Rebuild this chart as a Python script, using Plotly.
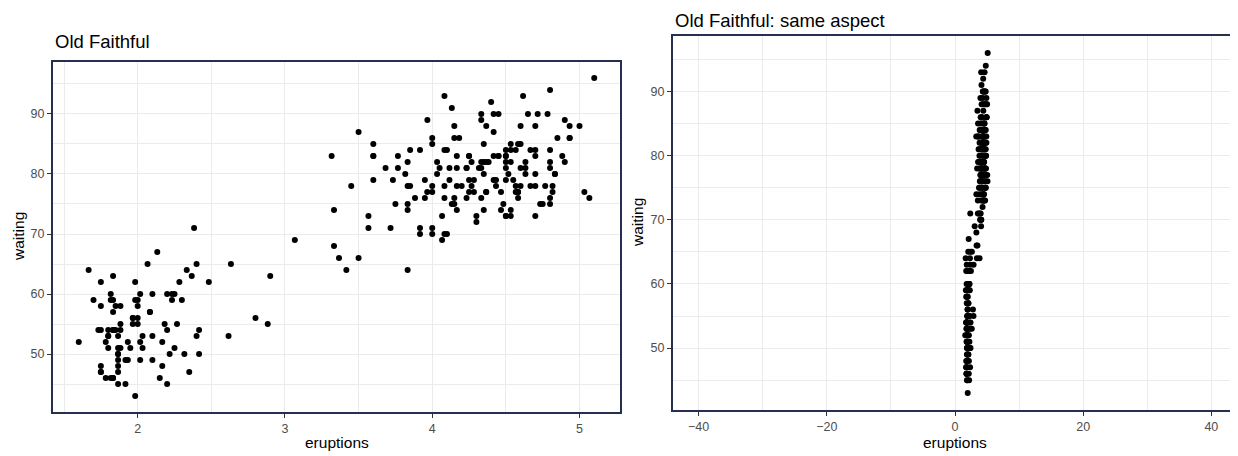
import plotly.graph_objects as go

# Old Faithful geyser data
eruptions = [
    3.600, 1.800, 3.333, 2.283, 4.533, 2.883, 4.700, 3.600, 1.950, 4.350,
    1.833, 3.917, 4.200, 1.750, 4.700, 2.167, 1.750, 4.800, 1.600, 4.250,
    1.800, 1.750, 3.450, 3.067, 4.533, 3.600, 1.967, 4.083, 3.850, 4.433,
    4.300, 4.467, 3.367, 4.033, 3.833, 2.017, 1.867, 4.833, 1.833, 4.783,
    4.350, 1.883, 4.567, 1.750, 4.533, 3.317, 3.833, 2.100, 4.633, 2.000,
    4.800, 4.716, 1.833, 4.833, 1.733, 4.883, 3.717, 1.667, 4.567, 4.317,
    2.233, 4.500, 1.750, 4.800, 1.817, 4.400, 4.167, 4.700, 2.067, 4.700,
    4.033, 1.967, 4.500, 4.000, 1.983, 5.067, 2.017, 4.567, 3.883, 3.600,
    4.133, 4.333, 4.100, 2.633, 4.067, 4.933, 3.950, 4.517, 2.167, 4.000,
    2.200, 4.333, 1.867, 4.817, 1.833, 4.300, 4.667, 3.750, 1.867, 4.900,
    2.483, 4.367, 2.100, 4.500, 4.050, 1.867, 4.700, 1.783, 4.850, 3.683,
    4.733, 2.300, 4.900, 4.417, 1.700, 4.633, 2.317, 4.600, 1.817, 4.417,
    2.617, 4.067, 4.250, 1.967, 4.600, 3.767, 1.917, 4.500, 2.267, 4.650,
    1.867, 4.167, 2.800, 4.333, 1.833, 4.383, 1.883, 4.933, 2.033, 3.733,
    4.233, 2.233, 4.533, 4.817, 4.333, 1.983, 4.633, 2.017, 5.100, 1.800,
    5.033, 4.000, 2.400, 4.600, 3.567, 4.000, 4.500, 4.083, 1.800, 3.967,
    2.200, 4.150, 2.000, 3.833, 3.500, 4.583, 2.367, 5.000, 1.933, 4.617,
    1.917, 2.083, 4.583, 3.333, 4.167, 4.333, 4.500, 2.417, 4.000, 4.167,
    1.883, 4.583, 4.250, 3.767, 2.033, 4.433, 4.083, 1.833, 4.417, 2.183,
    4.800, 1.833, 4.800, 4.100, 3.966, 4.233, 3.500, 4.366, 2.250, 4.667,
    2.100, 4.350, 4.133, 1.867, 4.600, 1.783, 4.367, 3.850, 1.933, 4.500,
    2.383, 4.700, 1.867, 3.833, 3.417, 4.233, 2.400, 4.800, 2.000, 4.150,
    1.867, 4.267, 1.750, 4.483, 4.000, 4.117, 4.083, 4.267, 3.917, 4.550,
    4.083, 2.417, 4.183, 2.217, 4.450, 1.883, 1.850, 4.283, 3.950, 2.333,
    4.150, 2.350, 4.933, 2.900, 4.583, 3.833, 2.083, 4.367, 2.133, 4.350,
    2.200, 4.450, 3.567, 4.500, 4.150, 3.817, 3.917, 4.450, 2.000, 4.283,
    4.767, 4.533, 1.850, 4.250, 1.983, 2.250, 4.750, 4.117, 2.150, 4.417,
    1.817, 4.467,
]
waiting = [
    79, 54, 74, 62, 85, 55, 88, 85, 51, 85,
    54, 84, 78, 47, 83, 52, 62, 84, 52, 79,
    51, 47, 78, 69, 74, 83, 55, 76, 78, 79,
    73, 77, 66, 80, 74, 52, 48, 80, 59, 90,
    80, 58, 84, 58, 73, 83, 64, 53, 82, 59,
    75, 90, 54, 80, 54, 83, 71, 64, 77, 81,
    59, 84, 48, 82, 60, 92, 78, 78, 65, 73,
    82, 56, 79, 71, 62, 76, 60, 78, 76, 83,
    75, 82, 70, 65, 73, 88, 76, 80, 48, 86,
    60, 90, 50, 78, 63, 72, 84, 75, 51, 82,
    62, 88, 49, 83, 81, 47, 84, 52, 86, 81,
    75, 59, 89, 79, 59, 81, 50, 85, 59, 87,
    53, 69, 77, 56, 88, 81, 45, 82, 55, 90,
    45, 83, 56, 89, 46, 82, 51, 86, 53, 79,
    81, 60, 82, 77, 76, 59, 80, 49, 96, 53,
    77, 77, 65, 81, 71, 70, 81, 93, 53, 89,
    45, 86, 58, 78, 66, 76, 63, 88, 52, 93,
    49, 57, 77, 68, 81, 81, 73, 50, 85, 74,
    55, 77, 83, 83, 51, 78, 84, 46, 83, 55,
    81, 57, 76, 84, 77, 81, 87, 77, 51, 78,
    60, 82, 91, 53, 78, 46, 77, 84, 49, 83,
    71, 80, 49, 75, 64, 76, 53, 94, 55, 76,
    50, 82, 54, 75, 78, 79, 78, 78, 70, 79,
    70, 54, 86, 50, 90, 54, 54, 77, 79, 64,
    75, 47, 86, 63, 85, 82, 57, 82, 67, 74,
    54, 83, 73, 73, 88, 80, 71, 83, 56, 79,
    78, 84, 58, 83, 43, 60, 75, 81, 46, 90,
    46, 74,
]

# page body has an 8px margin, so the figure is shrunk by that much
OFF = 8
W, H = 1238 - OFF, 456 - OFF
FONT = "Liberation Sans, Arial, sans-serif"
BORDER = "#262F4F"
GRID = "#EBEBEB"


def px_x(p):
    return (p - OFF) / W


def px_y(p):
    return (H - (p - OFF)) / H


def axis_style(rng, dtick, minor_dtick, dom):
    return dict(
        range=rng, domain=dom, dtick=dtick, tick0=0,
        showgrid=True, gridcolor=GRID, gridwidth=1.1,
        minor=dict(dtick=minor_dtick, tick0=0, showgrid=True,
                   gridcolor=GRID, gridwidth=0.6, ticks=""),
        zeroline=False,
        showline=True, linecolor=BORDER, linewidth=2, mirror=True,
        ticks="outside", ticklen=4, tickwidth=1, tickcolor="#333333",
        tickfont=dict(family=FONT, size=12.5, color="#4D4D4D"),
        fixedrange=True,
    )


fig = go.Figure()

fig.add_trace(go.Scatter(
    x=eruptions, y=waiting, mode="markers",
    marker=dict(color="black", size=6),
    xaxis="x", yaxis="y", showlegend=False,
))
fig.add_trace(go.Scatter(
    x=eruptions, y=waiting, mode="markers",
    marker=dict(color="black", size=6),
    xaxis="x2", yaxis="y2", showlegend=False,
))

fig.update_layout(
    width=W, height=H,
    margin=dict(l=0, r=0, t=0, b=0),
    paper_bgcolor="white", plot_bgcolor="white",
    xaxis=axis_style([1.425, 5.275], 1, 0.5, [px_x(53), px_x(620)]),
    yaxis=axis_style([40.35, 98.65], 10, 5, [px_y(412), px_y(62)]),
    xaxis2=axis_style([-44, 44], 20, 10, [px_x(673), px_x(1237)]),
    yaxis2=axis_style([40.35, 98.65], 10, 5, [px_y(410), px_y(36)]),
)
fig.update_layout(yaxis2_anchor="x2", xaxis2_anchor="y2")

notes = [
    ("Old Faithful", px_x(53), px_y(42), "left", "middle", 18.5, 0),
    ("Old Faithful: same aspect", px_x(673), 1.0, "left", "top", 18.5, 0),
    ("eruptions", px_x(336.5), px_y(442), "center", "middle", 15.5, 0),
    ("eruptions", px_x(955), px_y(442), "center", "middle", 15.5, 0),
    ("waiting", px_x(18), px_y(237), "center", "middle", 15.5, -90),
    ("waiting", px_x(637), px_y(223), "center", "middle", 15.5, -90),
]
for text, x, y, xa, ya, size, ang in notes:
    fig.add_annotation(
        text=text, x=x, y=y, xref="paper", yref="paper",
        xanchor=xa, yanchor=ya, showarrow=False, textangle=ang,
        font=dict(family=FONT, size=size, color="black"),
    )

fig.write_html("out.html")
